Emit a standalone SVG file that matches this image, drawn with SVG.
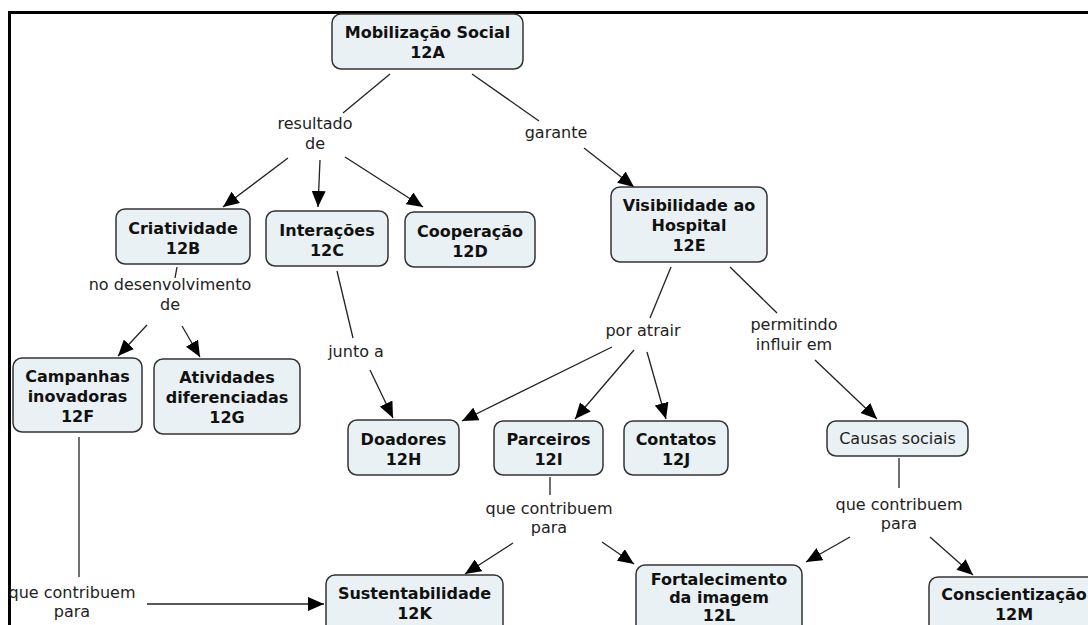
<svg xmlns="http://www.w3.org/2000/svg" width="1088" height="625" viewBox="0 0 1088 625">
<style>
.bg{fill:#fff}
.frame{fill:none;stroke:#000;stroke-width:3}
.node rect{fill:#e9f1f4;stroke:#333;stroke-width:1.5}
.nt{font-family:"DejaVu Sans",Verdana,sans-serif;font-weight:bold;font-size:16px;text-anchor:middle;fill:#111}
.pl{font-family:"DejaVu Sans",Verdana,sans-serif;font-size:16px;text-anchor:middle;fill:#222}
.conn line{stroke:#222;stroke-width:1.3;fill:none}
.conn line.a{marker-end:url(#ah)}
</style>
<defs>
<marker id="ah" markerUnits="userSpaceOnUse" markerWidth="17" markerHeight="14" refX="16" refY="7" orient="auto">
<path d="M0,0 L16,7 L0,14 z" fill="#000"/>
</marker>
</defs>
<rect class="bg" x="0" y="0" width="1088" height="625"/>
<rect class="frame" x="9.5" y="12.5" width="1200" height="700"/>

<g id="connectors" class="conn">
<line x1="390" y1="74" x2="343" y2="113"/>
<line class="a" x1="288" y1="158" x2="223" y2="207"/>
<line class="a" x1="320" y1="160" x2="318" y2="207"/>
<line class="a" x1="345" y1="157" x2="423" y2="207"/>
<line x1="472" y1="74" x2="539" y2="121"/>
<line class="a" x1="584" y1="148" x2="634" y2="187"/>
<line x1="177" y1="267" x2="175" y2="278"/>
<line class="a" x1="147" y1="325" x2="118" y2="356"/>
<line class="a" x1="182" y1="326" x2="200" y2="357"/>
<line x1="337" y1="271" x2="353" y2="338"/>
<line class="a" x1="370" y1="370" x2="393" y2="418"/>
<line x1="671" y1="267" x2="650" y2="318"/>
<line class="a" x1="612" y1="347" x2="462" y2="421"/>
<line class="a" x1="634" y1="350" x2="575" y2="419"/>
<line class="a" x1="647" y1="352" x2="666" y2="419"/>
<line x1="730" y1="267" x2="777" y2="313"/>
<line class="a" x1="815" y1="360" x2="877" y2="419"/>
<line x1="79" y1="437" x2="79" y2="577"/>
<line class="a" x1="147" y1="604" x2="324" y2="604"/>
<line x1="550" y1="477" x2="550" y2="495"/>
<line class="a" x1="513" y1="543" x2="465" y2="574"/>
<line class="a" x1="602" y1="542" x2="634" y2="564"/>
<line x1="899" y1="458" x2="899" y2="488"/>
<line class="a" x1="850" y1="537" x2="806" y2="562"/>
<line class="a" x1="930" y1="537" x2="973" y2="575"/>
</g>

<g id="link-labels">
<text class="pl" x="315" y="129">resultado</text>
<text class="pl" x="315" y="149">de</text>
<text class="pl" x="556" y="138">garante</text>
<text class="pl" x="170" y="290">no desenvolvimento</text>
<text class="pl" x="170" y="310">de</text>
<text class="pl" x="356" y="357">junto a</text>
<text class="pl" x="643" y="336">por atrair</text>
<text class="pl" x="794" y="330">permitindo</text>
<text class="pl" x="794" y="350">influir em</text>
<text class="pl" x="549" y="514">que contribuem</text>
<text class="pl" x="549" y="533">para</text>
<text class="pl" x="899" y="510">que contribuem</text>
<text class="pl" x="899" y="529">para</text>
<text class="pl" x="72" y="598">que contribuem</text>
<text class="pl" x="72" y="617">para</text>
</g>

<g id="n12A" class="node"><rect x="332" y="14" width="191" height="55" rx="9"/><text class="nt" x="427.5" y="38">Mobilização Social</text><text class="nt" x="427.5" y="58">12A</text></g>
<g id="n12B" class="node"><rect x="116" y="209" width="134" height="55" rx="9"/><text class="nt" x="183" y="234">Criatividade</text><text class="nt" x="183" y="254">12B</text></g>
<g id="n12C" class="node"><rect x="266" y="211" width="122" height="55" rx="9"/><text class="nt" x="327" y="236">Interações</text><text class="nt" x="327" y="256">12C</text></g>
<g id="n12D" class="node"><rect x="405" y="212" width="130" height="55" rx="9"/><text class="nt" x="470" y="237">Cooperação</text><text class="nt" x="470" y="257">12D</text></g>
<g id="n12E" class="node"><rect x="611" y="187" width="156" height="75" rx="9"/><text class="nt" x="689" y="211">Visibilidade ao</text><text class="nt" x="689" y="231">Hospital</text><text class="nt" x="689" y="251">12E</text></g>
<g id="n12F" class="node"><rect x="13" y="358" width="129" height="74" rx="9"/><text class="nt" x="77.5" y="382">Campanhas</text><text class="nt" x="77.5" y="402">inovadoras</text><text class="nt" x="77.5" y="422">12F</text></g>
<g id="n12G" class="node"><rect x="154" y="359" width="146" height="75" rx="9"/><text class="nt" x="227" y="383">Atividades</text><text class="nt" x="227" y="403">diferenciadas</text><text class="nt" x="227" y="423">12G</text></g>
<g id="n12H" class="node"><rect x="348" y="420" width="111" height="55" rx="9"/><text class="nt" x="403.5" y="445">Doadores</text><text class="nt" x="403.5" y="465">12H</text></g>
<g id="n12I" class="node"><rect x="494" y="421" width="109" height="54" rx="9"/><text class="nt" x="548.5" y="445">Parceiros</text><text class="nt" x="548.5" y="465">12I</text></g>
<g id="n12J" class="node"><rect x="624" y="421" width="104" height="54" rx="9"/><text class="nt" x="676" y="445">Contatos</text><text class="nt" x="676" y="465">12J</text></g>
<g id="causas" class="node"><rect x="827" y="421" width="141" height="35" rx="9"/><text class="pl" x="897.5" y="444">Causas sociais</text></g>
<g id="n12K" class="node"><rect x="326" y="575" width="177" height="60" rx="9"/><text class="nt" x="414.5" y="599">Sustentabilidade</text><text class="nt" x="414.5" y="619">12K</text></g>
<g id="n12L" class="node"><rect x="636" y="565" width="166" height="75" rx="9"/><text class="nt" x="719" y="585">Fortalecimento</text><text class="nt" x="719" y="603">da imagem</text><text class="nt" x="719" y="621">12L</text></g>
<g id="n12M" class="node"><rect x="929" y="577" width="172" height="60" rx="9"/><text class="nt" x="1014" y="600">Conscientização</text><text class="nt" x="1014" y="620">12M</text></g>
</svg>
